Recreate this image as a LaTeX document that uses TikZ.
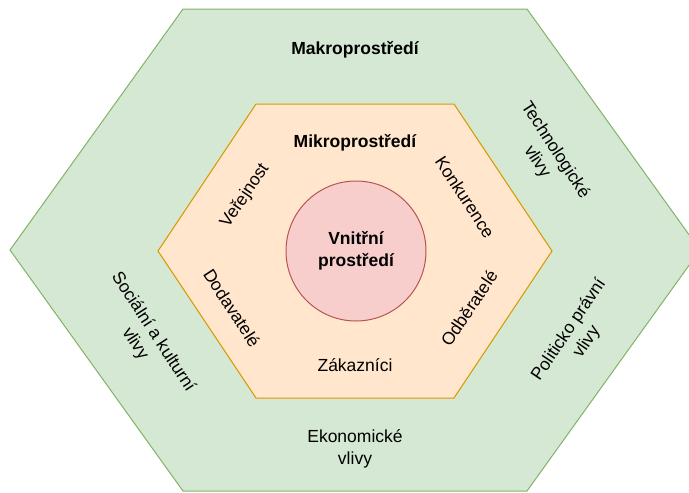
\documentclass[tikz,border=0pt]{standalone}
\usepackage{fontspec}
\setmainfont{Liberation Sans}
\usetikzlibrary{positioning}
\definecolor{makrofill}{HTML}{D5E8D4}
\definecolor{makroline}{HTML}{82B366}
\definecolor{mikrofill}{HTML}{FFE6CC}
\definecolor{mikroline}{HTML}{D79B00}
\definecolor{vnitrfill}{HTML}{F8CECC}
\definecolor{vnitrline}{HTML}{B85450}
\tikzstyle{popisek} = [align=center, inner sep=1pt, font=\fontsize{17.5}{21.5}\selectfont]
\tikzstyle{nadpis} = [popisek, font=\fontsize{17.5}{21.5}\selectfont\bfseries]
\tikzstyle{kruh} = [circle, minimum size=140pt, inner sep=0pt, fill=vnitrfill, draw=vnitrline, line width=1pt]

\begin{document}
\begin{tikzpicture}[x=1pt, y=-1pt]
    \clip (0,0) rectangle (689,493);
    % makroprostredi
    \draw [fill=makrofill, draw=makroline, line width=1pt] (10,250) -- (183,9) -- (527,9) -- (700,250) -- (527,491) -- (183,491) -- cycle;
    % mikroprostredi
    \draw [fill=mikrofill, draw=mikroline, line width=1pt] (158,251) -- (256,104) -- (454,104) -- (552,251) -- (454,398) -- (256,398) -- cycle;
    \node (vnitrni) [kruh, nadpis] at (356,251) {Vnitřní\\prostředí};

    \node (makro) [nadpis] at (355,50) {Makroprostředí};
    \node (mikro) [nadpis] at (355,143) {Mikroprostředí};
    \node (verejnost) [popisek, rotate=56] at (245,196) {Veřejnost};
    \node (konkurence) [popisek, rotate=-57] at (465,197) {Konkurence};
    \node (dodavatele) [popisek, rotate=-57] at (232,308) {Dodavatelé};
    \node (odberatele) [popisek, rotate=56] at (469,308) {Odběratelé};
    \node (zakaznici) [popisek] at (355,365) {Zákazníci};
    \node (ekonomicke) [popisek] at (355,449) {Ekonomické\\vlivy};
    \node (technologicke) [popisek, rotate=-57] at (546,156) {Technologické\\vlivy};
    \node (socialni) [popisek, rotate=-57] at (144,338) {Sociální a kulturní\\vlivy};
    \node (politicke) [popisek, rotate=56] at (578,336) {Politicko právní\\vlivy};
\end{tikzpicture}
\end{document}
